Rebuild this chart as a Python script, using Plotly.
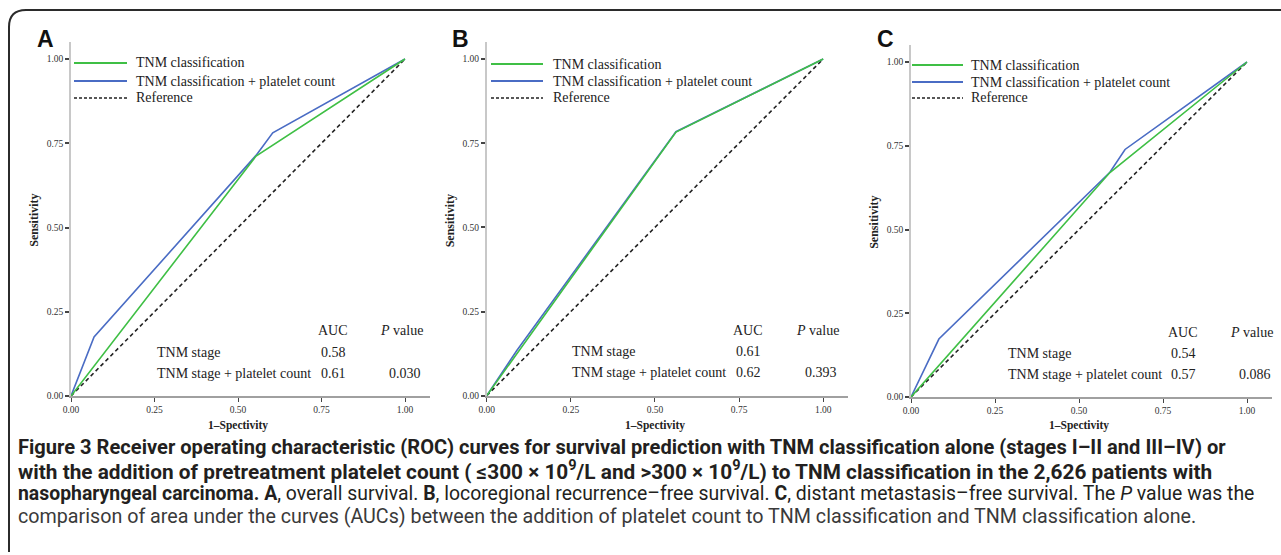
import plotly.graph_objects as go

# ---------------- data ----------------
panels = ["A", "B", "C"]

# panel A (overall survival)
a_tnm_x = [0.0, 0.554, 1.0]
a_tnm_y = [0.0, 0.712, 1.0]
a_plt_x = [0.0, 0.069, 0.554, 0.604, 1.0]
a_plt_y = [0.0, 0.175, 0.714, 0.781, 1.0]

# panel B (locoregional recurrence-free survival)
b_tnm_x = [0.0, 0.5625, 1.0]
b_tnm_y = [0.0, 0.783, 1.0]
b_plt_x = [0.0, 0.09, 0.5625, 1.0]
b_plt_y = [0.0, 0.135, 0.784, 1.0]

# panel C (distant metastasis-free survival)
c_tnm_x = [0.0, 0.592, 1.0]
c_tnm_y = [0.0, 0.670, 1.0]
c_plt_x = [0.0, 0.083, 0.592, 0.637, 1.0]
c_plt_y = [0.0, 0.173, 0.671, 0.739, 1.0]

ref_x = [0.0, 1.0]
ref_y = [0.0, 1.0]

auc_tnm = ["0.58", "0.61", "0.54"]
auc_plt = ["0.61", "0.62", "0.57"]
p_values = ["0.030", "0.393", "0.086"]

tick_vals = [0.0, 0.25, 0.5, 0.75, 1.0]
tick_text = ["0.00", "0.25", "0.50", "0.75", "1.00"]

series_names = ["TNM classification", "TNM classification + platelet count", "Reference"]

caption_lines = [
    "<b>Figure 3 Receiver operating characteristic (ROC) curves for survival prediction with TNM classification alone (stages I–II and III–IV) or</b>",
    "<b>with the addition of pretreatment platelet count ( ≤300 × 10<sup>9</sup>/L and >300 × 10<sup>9</sup>/L) to TNM classification in the 2,626 patients with</b>",
    "<b>nasopharyngeal carcinoma. A</b>, overall survival. <b>B</b>, locoregional recurrence–free survival. <b>C</b>, distant metastasis–free survival. The <i>P</i> value was the",
    "comparison of area under the curves (AUCs) between the addition of platelet count to TNM classification and TNM classification alone.",
]

# ---------------- layout geometry (pixels) ----------------
W, H = 1281, 555
XR = 1.075
YR = 1.05
# per panel: x0 px, x scale px/unit, y0 px (value 0), y scale px/unit
geo = [
    (71.0, 334.0, 396.0, 337.0),
    (486.7, 336.5, 395.7, 336.7),
    (911.0, 336.0, 397.0, 335.0),
]
# legend geometry per panel: sample start, sample end, text start (px), rows (px)
leg_geo = [
    (74, 127, 134, [63, 81, 98]),
    (491, 543, 551, [64, 81, 98]),
    (912, 963, 969, [65, 82, 98]),
]


def px(x):
    return x / W


def py(y):
    return 1 - y / H


GREEN = "#3fbf45"
BLUE = "#4a6cc4"
REFC = "#222222"
SERIF = "Liberation Serif, Times New Roman, serif"

fig = go.Figure()

curves = [
    (a_tnm_x, a_tnm_y, a_plt_x, a_plt_y),
    (b_tnm_x, b_tnm_y, b_plt_x, b_plt_y),
    (c_tnm_x, c_tnm_y, c_plt_x, c_plt_y),
]

annotations = []
shapes = []
for i, (tx, ty, bx, by) in enumerate(curves):
    n = "" if i == 0 else str(i + 1)
    xa, ya = "x" + n, "y" + n
    fig.add_trace(go.Scatter(x=ref_x, y=ref_y, mode="lines", name=series_names[2],
                             line=dict(color=REFC, width=1.6, dash="4px,3px"),
                             xaxis=xa, yaxis=ya, showlegend=False, hoverinfo="skip"))
    fig.add_trace(go.Scatter(x=bx, y=by, mode="lines", name=series_names[1],
                             line=dict(color=BLUE, width=1.6),
                             xaxis=xa, yaxis=ya, showlegend=False))
    fig.add_trace(go.Scatter(x=tx, y=ty, mode="lines", name=series_names[0],
                             line=dict(color=GREEN, width=1.6),
                             xaxis=xa, yaxis=ya, showlegend=False))

layout = dict(
    width=W, height=H,
    margin=dict(l=0, r=0, t=0, b=0, pad=0, autoexpand=False),
    paper_bgcolor="white", plot_bgcolor="white",
    showlegend=False,
)

lfont = dict(family=SERIF, size=14, color="#222222")
for i in range(3):
    n = "" if i == 0 else str(i + 1)
    x0, sx, y0, sy = geo[i]
    layout["xaxis" + n] = dict(
        domain=[px(x0), px(x0 + XR * sx)], range=[0, XR], anchor="y" + n,
        tickvals=tick_vals, ticktext=tick_text, ticks="outside", ticklen=4, tickwidth=1,
        tickcolor="#444444", showline=True, linecolor="#a0a0a0", linewidth=2,
        showgrid=False, zeroline=False, fixedrange=True, automargin=False,
        tickfont=dict(family=SERIF, size=9.5, color="#333333"),
    )
    layout["yaxis" + n] = dict(
        domain=[py(y0), py(y0 - YR * sy)], range=[0, YR], anchor="x" + n,
        tickvals=tick_vals, ticktext=tick_text, ticks="outside", ticklen=4, tickwidth=1.5,
        tickcolor="#444444", showline=True, linecolor="#c8c8c8", linewidth=1.5,
        showgrid=False, zeroline=False, fixedrange=True, automargin=False,
        tickfont=dict(family=SERIF, size=9.5, color="#333333"),
    )

    # legend (drawn as line samples + text)
    s0, s1, t0, rows = leg_geo[i]
    styles = [dict(color=GREEN, width=2), dict(color=BLUE, width=2),
              dict(color=REFC, width=1.5, dash="3px,2px")]
    for k in range(3):
        shapes.append(dict(type="line", xref="paper", yref="paper",
                           x0=px(s0), x1=px(s1), y0=py(rows[k]), y1=py(rows[k]),
                           line=styles[k]))
        annotations.append(dict(text=series_names[k], x=px(t0), y=py(rows[k]),
                                xref="paper", yref="paper", xanchor="left", yanchor="middle",
                                showarrow=False, font=lfont))

    # panel letter
    annotations.append(dict(text="<b>%s</b>" % panels[i], x=px(x0 - 26), y=py(39),
                            xref="paper", yref="paper", xanchor="center", yanchor="middle",
                            showarrow=False,
                            font=dict(family="Liberation Sans, Arial, sans-serif", size=23, color="#111111")))
    # axis titles
    annotations.append(dict(text="<b>Sensitivity</b>", x=px(x0 - 37), y=py(y0 - 0.52 * sy),
                            xref="paper", yref="paper", xanchor="center", yanchor="middle",
                            showarrow=False, textangle=-90,
                            font=dict(family=SERIF, size=12, color="#222222")))
    annotations.append(dict(text="<b>1–Spectivity</b>", x=px(x0 + 0.5 * sx), y=py(425),
                            xref="paper", yref="paper", xanchor="center", yanchor="middle",
                            showarrow=False,
                            font=dict(family=SERIF, size=11.5, color="#222222")))

# AUC tables (positions in each panel's data units, placed via paper coords)
tab_auc_x = [0.785, 0.777, 0.81]
tab_p_right = [1.054, 1.047, 1.077]
tab_label_left = [0.25, 0.2475, 0.282]
tab_rows = [0.193, 0.13, 0.068]
tfont = dict(family=SERIF, size=14, color="#222222")
for i in range(3):
    x0, sx, y0, sy = geo[i]

    def qx(v):
        return px(x0 + v * sx)

    def qy(v):
        return py(y0 - v * sy)

    common = dict(xref="paper", yref="paper", showarrow=False, font=tfont, yanchor="middle")
    annotations += [
        dict(text="AUC", x=qx(tab_auc_x[i]), y=qy(tab_rows[0]), xanchor="center", **common),
        dict(text="<i>P</i> value", x=qx(tab_p_right[i] + 0.005), y=qy(tab_rows[0]), xanchor="right", **common),
        dict(text="TNM stage", x=qx(tab_label_left[i]), y=qy(tab_rows[1]), xanchor="left", **common),
        dict(text=auc_tnm[i], x=qx(tab_auc_x[i]), y=qy(tab_rows[1]), xanchor="center", **common),
        dict(text="TNM stage + platelet count", x=qx(tab_label_left[i]), y=qy(tab_rows[2]), xanchor="left", **common),
        dict(text=auc_plt[i], x=qx(tab_auc_x[i]), y=qy(tab_rows[2]), xanchor="center", **common),
        dict(text=p_values[i], x=qx(tab_p_right[i]), y=qy(tab_rows[2]), xanchor="right", **common),
    ]

# caption
cap_y = [447, 470, 493, 516]
cap_size = [20.1, 20.8, 19.4, 19.7]
for k, line in enumerate(caption_lines):
    annotations.append(dict(text=line, x=px(16), y=py(cap_y[k]), xref="paper", yref="paper",
                            xanchor="left", yanchor="middle", showarrow=False, align="left",
                            font=dict(family="Roboto, Open Sans, sans-serif", size=cap_size[k],
                                      color="#231f20" if k < 3 else "#3a3a3a")))

layout["annotations"] = annotations

# outer rounded frame (top and left edges)
shapes.append(dict(
    type="path", xref="paper", yref="paper",
    path="M %f %f L %f %f Q %f %f %f %f L %f %f" % (
        px(1281), py(10), px(26), py(10), px(9), py(10), px(9), py(27), px(9), py(552)),
    line=dict(color="#2b2b2b", width=2),
))
layout["shapes"] = shapes

fig.update_layout(**layout)
fig.write_html("out.html",
               config={"displayModeBar": False},
               post_script="document.body.style.margin='0px';"
                           "document.documentElement.style.overflow='hidden';")
